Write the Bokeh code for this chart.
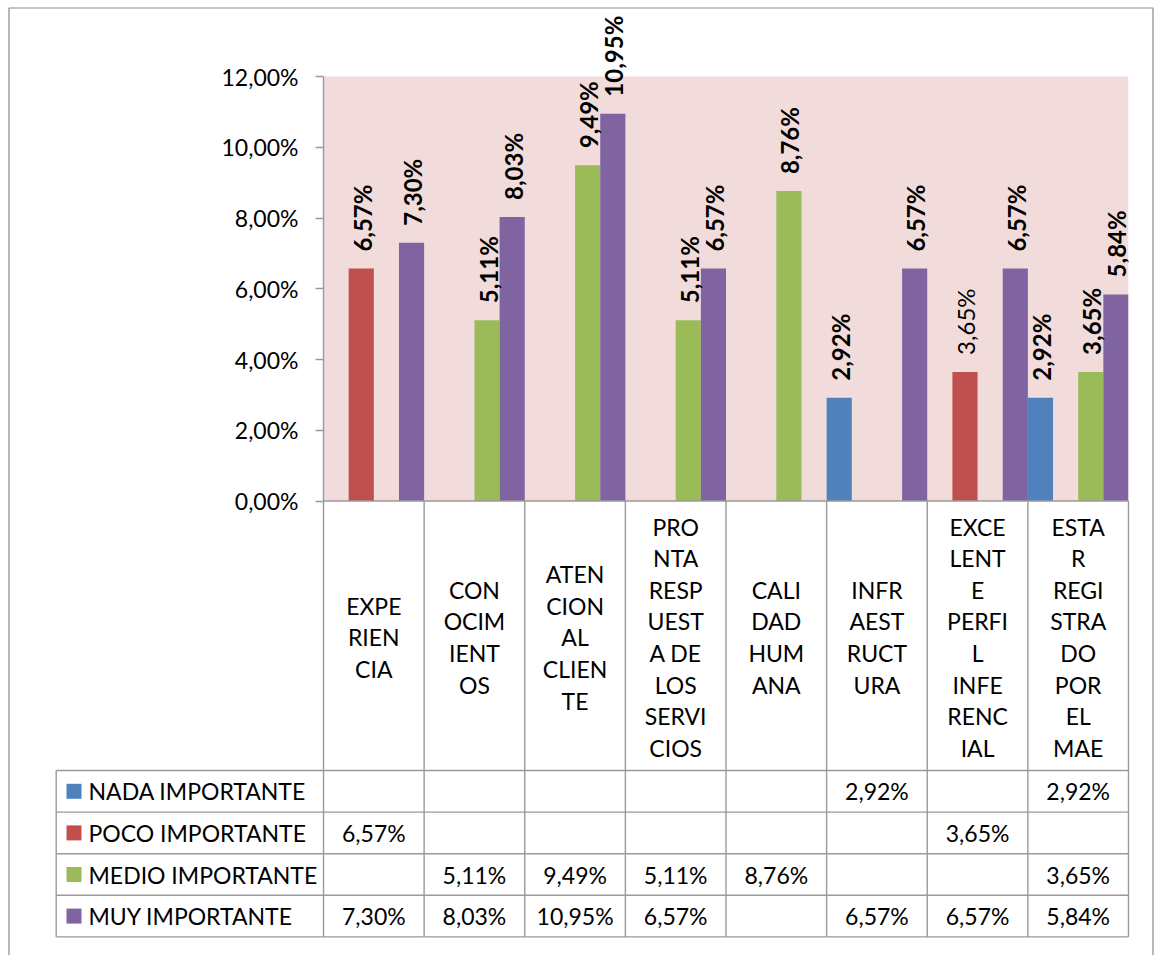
from bokeh.plotting import figure
from bokeh.models import (FactorRange, Range1d, BoxAnnotation,
                          CustomJSTickFormatter, FixedTicker)
from bokeh.core.properties import value
from bokeh.embed import file_html
from bokeh.resources import INLINE

# ---------------- data ----------------
categories = [
    "EXPERIENCIA",
    "CONOCIMIENTOS",
    "ATENCION AL CLIENTE",
    "PRONTA RESPUESTA DE LOS SERVICIOS",
    "CALIDAD HUMANA",
    "INFRAESTRUCTURA",
    "EXCELENTE PERFIL INFERENCIAL",
    "ESTAR REGISTRADO POR EL MAE",
]
category_labels = [
    "EXPE\nRIEN\nCIA",
    "CON\nOCIM\nIENT\nOS",
    "ATEN\nCION\nAL\nCLIEN\nTE",
    "PRO\nNTA\nRESP\nUEST\nA DE\nLOS\nSERVI\nCIOS",
    "CALI\nDAD\nHUM\nANA",
    "INFR\nAEST\nRUCT\nURA",
    "EXCE\nLENT\nE\nPERFI\nL\nINFE\nRENC\nIAL",
    "ESTA\nR\nREGI\nSTRA\nDO\nPOR\nEL\nMAE",
]
series = ["NADA IMPORTANTE", "POCO IMPORTANTE", "MEDIO IMPORTANTE", "MUY IMPORTANTE"]
nada_importante = [None, None, None, None, None, 2.92, None, 2.92]
poco_importante = [6.57, None, None, None, None, None, 3.65, None]
medio_importante = [None, 5.11, 9.49, 5.11, 8.76, None, None, 3.65]
muy_importante = [7.30, 8.03, 10.95, 6.57, None, 6.57, 6.57, 5.84]
y_ticks = [0, 2, 4, 6, 8, 10, 12]
normal_weight_labels = [("EXCELENTE PERFIL INFERENCIAL", "POCO IMPORTANTE")]

series_values = [nada_importante, poco_importante, medio_importante, muy_importante]
colors = ["#4F81BD", "#C0504D", "#9BBB59", "#8064A2"]

FONT = "Lato"
FS = "23px"
LABEL_FS = "24px"
GRID = "#9a9a9a"

def fmt(v):
    return f"{v:.2f}".replace(".", ",") + "%"

# ---------------- layout constants (page pixels) ----------------
W, H = 1154, 955
FRAME_L, FRAME_R = 323, 1128
ZERO_Y = 500.5
PX_PCT = 35.375
n_cat = len(categories)
n_ser = len(series)
PX_SUB = (FRAME_R - FRAME_L) / (n_cat * n_ser)

def sx(px):   # page px -> synthetic x
    return (px - FRAME_L) / PX_SUB

def sy(py):   # page px -> data y (percent)
    return (ZERO_Y - py) / PX_PCT

# ---------------- figure ----------------
factors = [(c, s) for c in categories for s in series]
x_range = FactorRange(*factors, factor_padding=0, group_padding=0, subgroup_padding=0,
                      range_padding=0)
p = figure(width=W, height=H, x_range=x_range,
           y_range=Range1d(sy(H), sy(0)),
           output_backend="svg", toolbar_location=None, x_axis_location=None,
           min_border_left=FRAME_L, min_border_right=W - FRAME_R,
           min_border_top=0, min_border_bottom=0,
           outline_line_color=None, background_fill_color="white", border_fill_color="white")
p.grid.visible = False

p.add_layout(BoxAnnotation(bottom=0, top=12, fill_color="#F2DCDB", fill_alpha=1.0,
                           line_color=None, level="underlay"))

bar_x, bar_top, bar_col = [], [], []
lab_b = dict(x=[], y=[], t=[])
lab_n = dict(x=[], y=[], t=[])
for s, vals, col in zip(series, series_values, colors):
    for c, v in zip(categories, vals):
        if v is None:
            continue
        bar_x.append((c, s))
        bar_top.append(v)
        bar_col.append(col)
        d = lab_n if (c, s) in normal_weight_labels else lab_b
        d["x"].append((c, s))
        d["y"].append(v)
        d["t"].append(fmt(v))

p.vbar(x=bar_x, top=bar_top, bottom=0, width=1.0, fill_color=bar_col, line_color=None)

for d, style in ((lab_b, "bold"), (lab_n, "normal")):
    p.text(x=d["x"], y=d["y"], text=d["t"], angle=1.5707963, text_align="left",
           text_baseline="middle", x_offset=1, y_offset=-17, text_font=value(FONT),
           text_font_size=LABEL_FS, text_font_style=style, text_color="black")

ax = p.yaxis[0]
ax.ticker = FixedTicker(ticks=y_ticks)
ax.formatter = CustomJSTickFormatter(code="return tick.toFixed(2).replace('.', ',') + '%';")
ax.bounds = (0, 12)
ax.major_tick_out = 8
ax.major_tick_in = 0
ax.minor_tick_line_color = None
ax.axis_line_color = GRID
ax.major_tick_line_color = GRID
ax.axis_line_width = 1.4
ax.major_tick_line_width = 1.4
ax.major_label_text_font = FONT
ax.major_label_text_font_size = FS
ax.major_label_text_color = "black"
ax.major_label_standoff = 17

# ---------------- data table ----------------
ROW_PX = 41.6
header_bottom = 770
left_edge = sx(55.7)
right_edge = n_cat * n_ser
row_lines = [sy(header_bottom + k * ROW_PX) for k in range(n_ser + 1)]
table_bottom = row_lines[-1]
header_mid = sy((ZERO_Y + header_bottom) / 2 + 1.5)
row_mid = [sy(header_bottom + (r + 0.5) * ROW_PX) for r in range(n_ser)]

x0s, y0s, x1s, y1s = [], [], [], []
for yl in row_lines:
    x0s.append(left_edge); x1s.append(right_edge); y0s.append(yl); y1s.append(yl)
for i in range(n_cat + 1):
    x0s.append(i * n_ser); x1s.append(i * n_ser); y0s.append(0); y1s.append(table_bottom)
x0s.append(left_edge); x1s.append(left_edge); y0s.append(row_lines[0]); y1s.append(table_bottom)
x0s.append(0); x1s.append(right_edge); y0s.append(0); y1s.append(0)
p.segment(x0=x0s, y0=y0s, x1=x1s, y1=y1s, line_color=GRID, line_width=1.4, level="overlay")

# outer chart border
bx0, bx1 = sx(8.5), sx(1152.5)
by0, by1 = sy(7.5), sy(H + 5)
p.multi_line(xs=[[bx0, bx0, bx1, bx1]], ys=[[by1, by0, by0, by1]],
             line_color="#8a8a8a", line_width=1.2, level="overlay")

# header (category labels)
p.text(x=categories, y=[header_mid] * n_cat, text=category_labels,
       text_align="center", text_baseline="middle", text_line_height=1.13,
       text_font=value(FONT), text_font_size=FS, text_color="black")

# legend keys (drawn as short thick strokes) + row labels
p.segment(x0=[sx(66)] * n_ser, x1=[sx(81)] * n_ser, y0=row_mid, y1=row_mid,
          line_color=colors, line_width=15, line_cap="butt", level="overlay")
p.text(x=[sx(88)] * n_ser, y=row_mid, text=series, text_align="left",
       text_baseline="middle", text_font=value(FONT), text_font_size=FS,
       text_color="black", level="overlay")

# values
vx, vy, vt = [], [], []
for r, vals in enumerate(series_values):
    for c, v in zip(categories, vals):
        if v is None:
            continue
        vx.append(c); vy.append(row_mid[r]); vt.append(fmt(v))
p.text(x=vx, y=vy, text=vt, text_align="center", text_baseline="middle",
       text_font=value(FONT), text_font_size=FS, text_color="black")

open("out.html", "w").write(file_html(p, INLINE))
